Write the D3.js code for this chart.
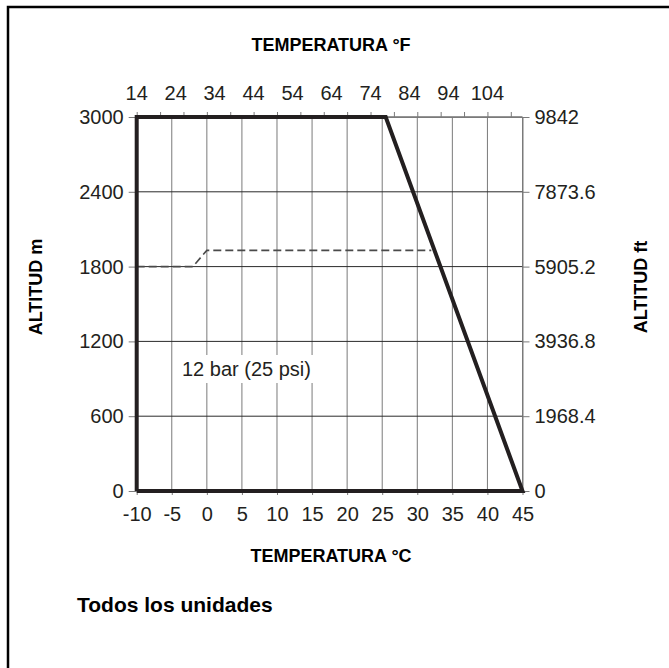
<!DOCTYPE html>
<html>
<head>
<meta charset="utf-8">
<script src="https://cdn.jsdelivr.net/npm/d3@7"></script>
<style>
  body { margin: 0; background: #fff; }
  svg { display: block; font-family: 'Liberation Sans', Arial, sans-serif; }
</style>
</head>
<body>
<script>
// data
const celsiusTicks = [-10, -5, 0, 5, 10, 15, 20, 25, 30, 35, 40, 45];
const fahrenheitLabels = [14, 24, 34, 44, 54, 64, 74, 84, 94, 104];
const fahrenheitTicks = [14, 20, 26, 32, 38, 44, 50, 56, 62, 68, 74, 80, 86, 92, 98, 104, 110];
const altitudeTicksM = [0, 600, 1200, 1800, 2400, 3000];
const altitudeTicksFt = [0, 1968.4, 3936.8, 5905.2, 7873.6, 9842];

// operating envelope (thick line)
const envelopeC = [-10, -10, 25.5, 45, -10];
const envelopeM = [0, 3000, 3000, 0, 0];

// 12 bar (25 psi) dashed line
const pressureC = [-10, -2, 0, 32];
const pressureM = [1800, 1800, 1930, 1930];

// constants
const width = 669;
const height = 668;
const plotLeft = 136.7;
const plotRight = 522.5;
const plotTop = 117;
const plotBottom = 491;
const ink = '#231f20';
const plain = (d) => `${d}`;

const x = d3.scaleLinear().domain([-10, 45]).range([plotLeft, plotRight]);
const xF = d3.scaleLinear().domain([14, 113]).range([plotLeft, plotRight]);
const y = d3.scaleLinear().domain([0, 3000]).range([plotBottom, plotTop]);
const yFt = d3.scaleLinear().domain([0, 9842]).range([plotBottom, plotTop]);

const svg = d3.select('body')
  .append('svg')
  .attr('width', width)
  .attr('height', height);

// outer frame (open on right and bottom)
svg.append('path')
  .attr('d', `M8,${height} V7 H${width}`)
  .attr('fill', 'none')
  .attr('stroke', '#000')
  .attr('stroke-width', 2.5);

// grid
svg.append('g')
  .selectAll('line')
  .data(celsiusTicks)
  .join('line')
  .attr('x1', (d) => x(d))
  .attr('x2', (d) => x(d))
  .attr('y1', plotTop)
  .attr('y2', plotBottom)
  .attr('stroke', '#7a7a7a')
  .attr('stroke-width', 1);

svg.append('g')
  .selectAll('line')
  .data(altitudeTicksM)
  .join('line')
  .attr('x1', plotLeft)
  .attr('x2', plotRight)
  .attr('y1', (d) => y(d))
  .attr('y2', (d) => y(d))
  .attr('stroke', '#2a2a2a')
  .attr('stroke-width', 1);

// axes
function styleAxis(g) {
  g.selectAll('.domain').attr('stroke', '#7a7a7a');
  g.selectAll('.tick line').attr('stroke', '#7a7a7a');
  g.selectAll('text')
    .attr('font-size', 20)
    .attr('fill', ink)
    .attr('font-family', "'Liberation Sans', Arial, sans-serif");
}

svg.append('g')
  .attr('transform', `translate(0,${plotBottom})`)
  .call(d3.axisBottom(x).tickValues(celsiusTicks).tickFormat(plain)
    .tickSize(4).tickPadding(12).tickSizeOuter(0))
  .call(styleAxis);

svg.append('g')
  .attr('transform', `translate(${plotLeft},0)`)
  .call(d3.axisLeft(y).tickValues(altitudeTicksM).tickFormat(plain)
    .tickSize(8).tickPadding(5).tickSizeOuter(0))
  .call(styleAxis);

svg.append('g')
  .attr('transform', `translate(${plotRight},0)`)
  .call(d3.axisRight(yFt).tickValues(altitudeTicksFt).tickFormat(plain)
    .tickSize(7).tickPadding(5).tickSizeOuter(0))
  .call(styleAxis);

// top °F axis: minor ticks every 6 °F, labels every 10 °F
svg.append('g')
  .attr('transform', `translate(0,${plotTop})`)
  .call(d3.axisTop(xF).tickValues(fahrenheitTicks).tickFormat('').tickSize(5).tickSizeOuter(0))
  .call(styleAxis);

svg.append('g')
  .selectAll('text')
  .data(fahrenheitLabels)
  .join('text')
  .attr('x', (d) => xF(d))
  .attr('y', 100)
  .attr('text-anchor', 'middle')
  .attr('font-size', 20)
  .attr('fill', ink)
  .text(plain);

// dashed pressure line
const line = d3.line()
  .x((d) => x(d[0]))
  .y((d) => y(d[1]));

svg.append('path')
  .datum(d3.zip(pressureC, pressureM))
  .attr('d', line)
  .attr('fill', 'none')
  .attr('stroke', '#4a4a4a')
  .attr('stroke-width', 1.6)
  .attr('stroke-dasharray', '8,4');

// envelope
svg.append('path')
  .datum(d3.zip(envelopeC, envelopeM))
  .attr('d', line)
  .attr('fill', 'none')
  .attr('stroke', ink)
  .attr('stroke-width', 4)
  .attr('stroke-linejoin', 'miter');

// label with white box
const label = svg.append('g');
label.append('rect')
  .attr('x', 178)
  .attr('y', 355)
  .attr('width', 145)
  .attr('height', 28)
  .attr('fill', '#fff');
label.append('text')
  .attr('x', 182)
  .attr('y', 376)
  .attr('font-size', 20)
  .attr('fill', ink)
  .text('12 bar (25 psi)');

// titles
svg.append('text')
  .attr('x', 331)
  .attr('y', 51)
  .attr('text-anchor', 'middle')
  .attr('font-size', 18)
  .attr('font-weight', 'bold')
  .text('TEMPERATURA °F');

svg.append('text')
  .attr('x', 331)
  .attr('y', 562)
  .attr('text-anchor', 'middle')
  .attr('font-size', 18)
  .attr('font-weight', 'bold')
  .text('TEMPERATURA °C');

svg.append('text')
  .attr('transform', 'translate(42,287) rotate(-90)')
  .attr('text-anchor', 'middle')
  .attr('font-size', 18)
  .attr('font-weight', 'bold')
  .text('ALTITUD m');

svg.append('text')
  .attr('transform', 'translate(647,287) rotate(-90)')
  .attr('text-anchor', 'middle')
  .attr('font-size', 18)
  .attr('font-weight', 'bold')
  .text('ALTITUD ft');

svg.append('text')
  .attr('x', 77)
  .attr('y', 612)
  .attr('font-size', 21)
  .attr('font-weight', 'bold')
  .text('Todos los unidades');
</script>
</body>
</html>
